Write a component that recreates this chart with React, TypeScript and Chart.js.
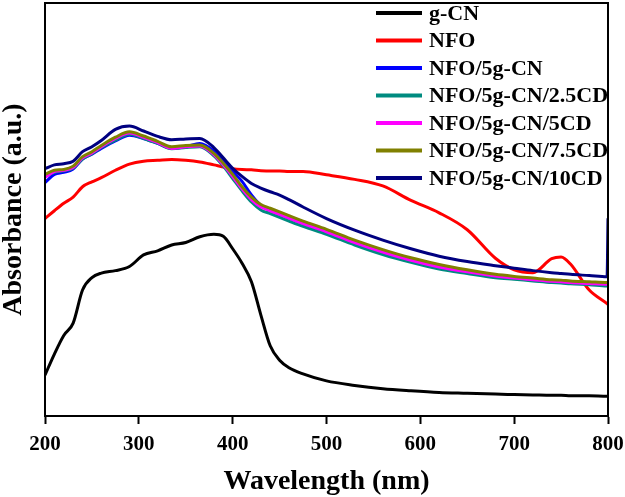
import React, { useEffect, useRef } from "react";
import { Chart, registerables } from "chart.js";

Chart.register(...registerables);

const wavelengths = [200, 210, 220, 230, 240, 250, 260, 275, 290, 305, 320, 335, 350, 365, 380, 390, 400, 410, 420, 430, 440, 450, 460, 475, 500, 530, 560, 590, 620, 650, 680, 700, 720, 740, 750, 760, 780, 799, 800];

const gCN = [0.099, 0.150, 0.195, 0.225, 0.305, 0.335, 0.346, 0.352, 0.362, 0.390, 0.400, 0.414, 0.420, 0.434, 0.440, 0.435, 0.405, 0.370, 0.325, 0.245, 0.170, 0.135, 0.117, 0.102, 0.085, 0.074, 0.066, 0.061, 0.057, 0.055, 0.053, 0.052, 0.051, 0.050, 0.050, 0.049, 0.049, 0.048, 0.048];
const NFO = [0.478, 0.497, 0.515, 0.530, 0.555, 0.567, 0.577, 0.595, 0.610, 0.617, 0.619, 0.621, 0.619, 0.615, 0.608, 0.603, 0.599, 0.597, 0.596, 0.594, 0.593, 0.593, 0.592, 0.592, 0.584, 0.573, 0.557, 0.522, 0.492, 0.451, 0.382, 0.354, 0.347, 0.381, 0.385, 0.368, 0.305, 0.272, 0.270];
const NFO_5gCN = [0.565, 0.585, 0.590, 0.598, 0.622, 0.634, 0.648, 0.666, 0.680, 0.672, 0.660, 0.648, 0.652, 0.660, 0.642, 0.618, 0.592, 0.568, 0.535, 0.510, 0.498, 0.488, 0.479, 0.466, 0.446, 0.421, 0.398, 0.378, 0.362, 0.350, 0.340, 0.335, 0.331, 0.327, 0.326, 0.325, 0.323, 0.321, 0.321];
const NFO_5gCN_25CD = [0.580, 0.590, 0.594, 0.600, 0.622, 0.635, 0.650, 0.668, 0.682, 0.672, 0.660, 0.647, 0.650, 0.652, 0.630, 0.605, 0.575, 0.545, 0.518, 0.499, 0.490, 0.481, 0.472, 0.459, 0.440, 0.414, 0.391, 0.372, 0.356, 0.345, 0.335, 0.331, 0.327, 0.323, 0.322, 0.320, 0.318, 0.315, 0.315];
const NFO_5gCN_5CD = [0.578, 0.592, 0.595, 0.602, 0.625, 0.637, 0.652, 0.672, 0.685, 0.675, 0.662, 0.648, 0.652, 0.654, 0.633, 0.608, 0.580, 0.550, 0.524, 0.506, 0.497, 0.488, 0.479, 0.466, 0.446, 0.420, 0.397, 0.377, 0.361, 0.349, 0.339, 0.334, 0.330, 0.326, 0.325, 0.323, 0.321, 0.319, 0.319];
const NFO_5gCN_75CD = [0.585, 0.595, 0.597, 0.605, 0.628, 0.640, 0.655, 0.675, 0.688, 0.678, 0.665, 0.652, 0.655, 0.656, 0.636, 0.612, 0.585, 0.555, 0.530, 0.512, 0.503, 0.494, 0.485, 0.472, 0.452, 0.426, 0.403, 0.383, 0.367, 0.354, 0.343, 0.338, 0.334, 0.330, 0.329, 0.327, 0.325, 0.323, 0.323];
const NFO_5gCN_10CD = [0.599, 0.608, 0.611, 0.617, 0.640, 0.652, 0.667, 0.694, 0.702, 0.690, 0.677, 0.669, 0.671, 0.672, 0.650, 0.625, 0.600, 0.580, 0.563, 0.552, 0.543, 0.535, 0.524, 0.506, 0.478, 0.450, 0.426, 0.405, 0.387, 0.374, 0.364, 0.358, 0.352, 0.347, 0.345, 0.343, 0.340, 0.337, 0.479];

const seriesLabels = ["g-CN", "NFO", "NFO/5g-CN", "NFO/5g-CN/2.5CD", "NFO/5g-CN/5CD", "NFO/5g-CN/7.5CD", "NFO/5g-CN/10CD"];
const seriesValues = [gCN, NFO, NFO_5gCN, NFO_5gCN_25CD, NFO_5gCN_5CD, NFO_5gCN_75CD, NFO_5gCN_10CD];
const seriesColors = ["#000000", "#ff0000", "#0000ff", "#008b80", "#ff00ff", "#808000", "#000080"];
const xTicks = [200, 300, 400, 500, 600, 700, 800];

const FONT = "'Liberation Serif', 'Times New Roman', serif";

const framePlugin = {
  id: "frame",
  afterDatasetsDraw(chart: any) {
    const { ctx, chartArea } = chart;
    ctx.save();
    ctx.strokeStyle = "#000";
    ctx.lineWidth = 2;
    ctx.strokeRect(chartArea.left, chartArea.top, chartArea.right - chartArea.left, chartArea.bottom - chartArea.top);
    ctx.restore();
  },
};

const legendPlugin = {
  id: "customLegend",
  afterDraw(chart: any) {
    const { ctx } = chart;
    const x0 = 376;
    const x1 = 422;
    const tx = 429;
    const y0 = 13;
    const dy = 27.5;
    ctx.save();
    ctx.font = `bold 22px ${FONT}`;
    ctx.textBaseline = "middle";
    ctx.textAlign = "left";
    chart.data.datasets.forEach((ds: any, i: number) => {
      const y = y0 + i * dy;
      ctx.strokeStyle = ds.borderColor;
      ctx.lineWidth = 4;
      ctx.beginPath();
      ctx.moveTo(x0, y);
      ctx.lineTo(x1, y);
      ctx.stroke();
      ctx.fillStyle = "#000";
      ctx.fillText(ds.label, tx, y + 1);
    });
    ctx.restore();
  },
};

export default function App() {
  const ref = useRef<HTMLCanvasElement | null>(null);

  useEffect(() => {
    if (!ref.current) return;
    const datasets = seriesLabels.map((label, i) => ({
      label,
      data: wavelengths.map((w, j) => ({ x: w, y: seriesValues[i][j] })),
      borderColor: seriesColors[i],
      backgroundColor: seriesColors[i],
      borderWidth: 3,
      pointRadius: 0,
      cubicInterpolationMode: "monotone" as const,
      order: seriesLabels.length - i,
    }));
    const chart = new Chart(ref.current, {
      type: "line",
      data: { datasets },
      options: {
        animation: false,
        responsive: false,
        devicePixelRatio: 1,
        layout: { padding: { top: 3, right: 17, left: 0, bottom: 0 } },
        plugins: { legend: { display: false }, tooltip: { enabled: false } },
        scales: {
          x: {
            type: "linear",
            min: 200,
            max: 800,
            afterBuildTicks: (scale: any) => {
              scale.ticks = xTicks.map((v) => ({ value: v }));
            },
            afterFit: (scale: any) => {
              scale.height = 81;
              scale.paddingRight = 0;
              scale.paddingLeft = 0;
            },
            ticks: {
              font: { family: FONT, size: 21, weight: "bold" },
              color: "#000",
              padding: 8,
              maxRotation: 0,
            },
            grid: {
              drawOnChartArea: false,
              drawTicks: true,
              tickLength: 8,
              tickWidth: 2,
              tickColor: "#000",
            },
            border: { display: true, color: "#000", width: 2 },
            title: {
              display: true,
              text: "Wavelength (nm)",
              color: "#000",
              font: { family: FONT, size: 28, weight: "bold", lineHeight: 1 },
              padding: { top: 0, bottom: 1 },
            },
          },
          y: {
            type: "linear",
            min: 0,
            max: 1,
            afterFit: (scale: any) => {
              scale.width = 45;
            },
            ticks: { display: false },
            grid: { display: false },
            border: { display: true, color: "#000", width: 2 },
            title: {
              display: true,
              text: "Absorbance (a.u.)",
              color: "#000",
              font: { family: FONT, size: 28, weight: "bold", lineHeight: 1 },
              padding: { top: 0, bottom: 0 },
            },
          },
        },
      },
      plugins: [framePlugin, legendPlugin],
    });
    return () => chart.destroy();
  }, []);

  return (
    <div style={{ position: "absolute", left: 0, top: 0, width: 625, height: 497, background: "#fff" }}>
      <canvas ref={ref} width={625} height={497} style={{ display: "block" }} />
    </div>
  );
}
